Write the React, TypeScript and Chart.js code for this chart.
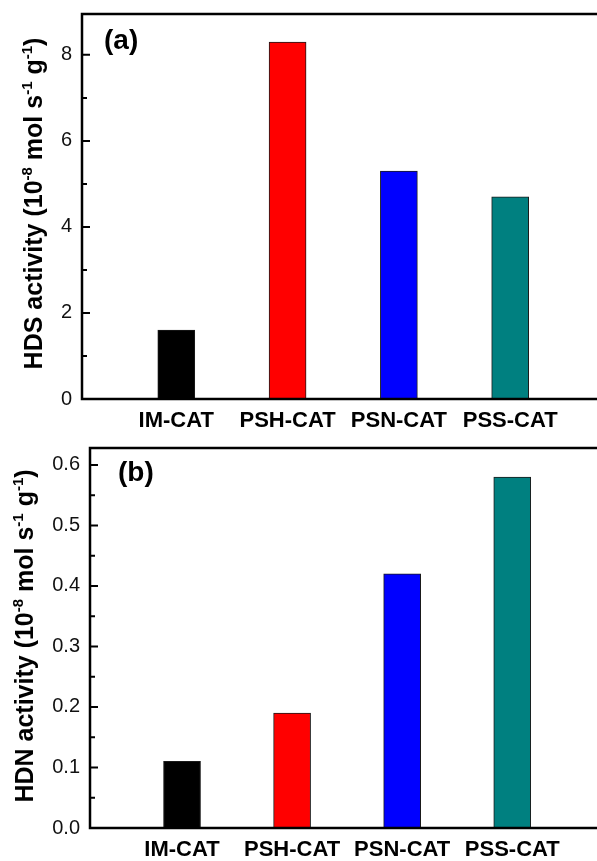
import React, { useEffect, useRef } from 'react';
import { Chart, registerables } from 'chart.js';

Chart.register(...registerables);

const categories = ['IM-CAT', 'PSH-CAT', 'PSN-CAT', 'PSS-CAT'];
const hdsValues = [1.6, 8.3, 5.3, 4.7];
const hdnValues = [0.11, 0.19, 0.42, 0.58];
const barColors = ['#000000', '#ff0000', '#0000ff', '#008080'];
const hdsTickValues = [0, 2, 4, 6, 8];
const hdnTickValues = [0, 0.1, 0.2, 0.3, 0.4, 0.5, 0.6];
const hdsTitle: [string, boolean][] = [['HDS activity (10', false], ['-8', true], [' mol s', false], ['-1', true], [' g', false], ['-1', true], [')', false]];
const hdnTitle: [string, boolean][] = [['HDN activity (10', false], ['-8', true], [' mol s', false], ['-1', true], [' g', false], ['-1', true], [')', false]];

const FAMILY = "'Liberation Sans', Arial, sans-serif";

const framePlugin = {
  id: 'frame',
  afterDraw(chart: any, _args: any, opts: any) {
    const { ctx, chartArea: a, scales } = chart;
    const y = scales.y;
    ctx.save();
    ctx.strokeStyle = '#000';
    ctx.lineWidth = 2.5;
    ctx.beginPath();
    ctx.moveTo(a.left, a.top);
    ctx.lineTo(a.right + 2, a.top);
    ctx.moveTo(a.left, a.top - 1.25);
    ctx.lineTo(a.left, a.bottom + 1.25);
    ctx.moveTo(a.left, a.bottom);
    ctx.lineTo(a.right + 2, a.bottom);
    ctx.stroke();

    const t: number[] = opts.ticks;
    ctx.lineWidth = 2;
    ctx.beginPath();
    t.forEach((v: number, i: number) => {
      const p = y.getPixelForValue(v);
      ctx.moveTo(a.left, p);
      ctx.lineTo(a.left + 8, p);
      if (i < t.length - 1) {
        const m = y.getPixelForValue((v + t[i + 1]) / 2);
        ctx.moveTo(a.left, m);
        ctx.lineTo(a.left + 5, m);
      }
    });
    ctx.stroke();

    // panel label
    ctx.fillStyle = '#000';
    ctx.font = `bold 28px ${FAMILY}`;
    ctx.textBaseline = 'middle';
    ctx.textAlign = 'left';
    ctx.fillText(opts.label, opts.labelX, opts.labelY);

    // rotated axis title with superscripts
    const segs: [string, boolean][] = opts.title;
    const mainFont = `bold 25px ${FAMILY}`;
    const supFont = `bold 15px ${FAMILY}`;
    let total = 0;
    segs.forEach(([s, sup]) => {
      ctx.font = sup ? supFont : mainFont;
      total += ctx.measureText(s).width;
    });
    ctx.translate(opts.titleX, (a.top + a.bottom) / 2 + opts.titleDy);
    ctx.rotate(-Math.PI / 2);
    ctx.textBaseline = 'alphabetic';
    let x = -total / 2;
    segs.forEach(([s, sup]) => {
      ctx.font = sup ? supFont : mainFont;
      ctx.fillText(s, x, sup ? -2 : 8);
      x += ctx.measureText(s).width;
    });
    ctx.restore();
  },
};

type PanelProps = {
  values: number[];
  tickValues: number[];
  decimals: number;
  yMax: number;
  xMin: number;
  xMax: number;
  top: number;
  height: number;
  areaTop: number;
  areaBottom: number;
  areaLeft: number;
  label: string;
  labelX: number;
  labelY: number;
  title: [string, boolean][];
  titleX: number;
  titleDy: number;
};

function Panel(p: PanelProps) {
  const ref = useRef<HTMLCanvasElement>(null);
  useEffect(() => {
    if (!ref.current) return;
    const chart = new Chart(ref.current, {
      type: 'bar',
      data: {
        datasets: [
          {
            data: p.values.map((v, i) => ({ x: i + 1, y: v })),
            backgroundColor: barColors,
            borderColor: '#1a1a1a',
            borderWidth: 1,
            barThickness: 37,
          } as any,
        ],
      },
      options: {
        responsive: false,
        animation: false,
        layout: { padding: { top: p.areaTop, left: 0, right: 0, bottom: 0 } },
        plugins: {
          legend: { display: false },
          tooltip: { enabled: false },
          title: { display: false },
          frame: {
            ticks: p.tickValues,
            label: p.label,
            labelX: p.labelX,
            labelY: p.labelY,
            title: p.title,
            titleX: p.titleX,
            titleDy: p.titleDy,
          },
        } as any,
        scales: {
          x: {
            type: 'linear',
            offset: false,
            min: p.xMin,
            max: p.xMax,
            grid: { display: false, drawTicks: false, offset: false },
            border: { display: false },
            afterBuildTicks: (s: any) => {
              s.ticks = categories.map((_, i) => ({ value: i + 1 }));
            },
            afterFit: (s: any) => {
              s.height = p.height - p.areaBottom;
              s.paddingLeft = 0;
              s.paddingRight = 0;
            },
            ticks: {
              font: { family: FAMILY, size: 22, weight: 'bold' },
              color: '#000',
              padding: 9,
              maxRotation: 0,
              autoSkip: false,
              callback: (v: any) => categories[Math.round(Number(v)) - 1] ?? '',
            },
          },
          y: {
            type: 'linear',
            min: 0,
            max: p.yMax,
            grid: { display: false, drawTicks: false },
            border: { display: false },
            afterBuildTicks: (s: any) => {
              s.ticks = p.tickValues.map((v) => ({ value: v }));
            },
            afterFit: (s: any) => {
              s.width = p.areaLeft;
              s.paddingTop = 0;
              s.paddingBottom = 0;
            },
            ticks: {
              font: { family: FAMILY, size: 20 },
              color: '#111',
              padding: 10,
              callback: (v: any) => Number(v).toFixed(p.decimals),
            },
          },
        } as any,
      },
      plugins: [framePlugin],
    });
    return () => chart.destroy();
  }, []);
  return (
    <canvas
      ref={ref}
      width={597}
      height={p.height}
      style={{ position: 'absolute', left: 0, top: p.top, width: 597, height: p.height }}
    />
  );
}

export default function App() {
  return (
    <div style={{ position: 'absolute', left: 0, top: 0, width: 597, height: 861, background: '#fff', overflow: 'hidden' }}>
      <Panel
        values={hdsValues}
        tickValues={hdsTickValues}
        decimals={0}
        yMax={8.95}
        xMin={0.153}
        xMax={4.78}
        top={0}
        height={440}
        areaTop={14}
        areaBottom={399}
        areaLeft={82}
        label="(a)"
        labelX={104}
        labelY={41}
        title={hdsTitle}
        titleX={34}
        titleDy={-3}
      />
      <Panel
        values={hdnValues}
        tickValues={hdnTickValues}
        decimals={1}
        yMax={0.628}
        xMin={0.164}
        xMax={4.77}
        top={430}
        height={431}
        areaTop={18}
        areaBottom={398}
        areaLeft={90}
        label="(b)"
        labelX={118}
        labelY={43}
        title={hdnTitle}
        titleX={25}
        titleDy={-2}
      />
    </div>
  );
}
